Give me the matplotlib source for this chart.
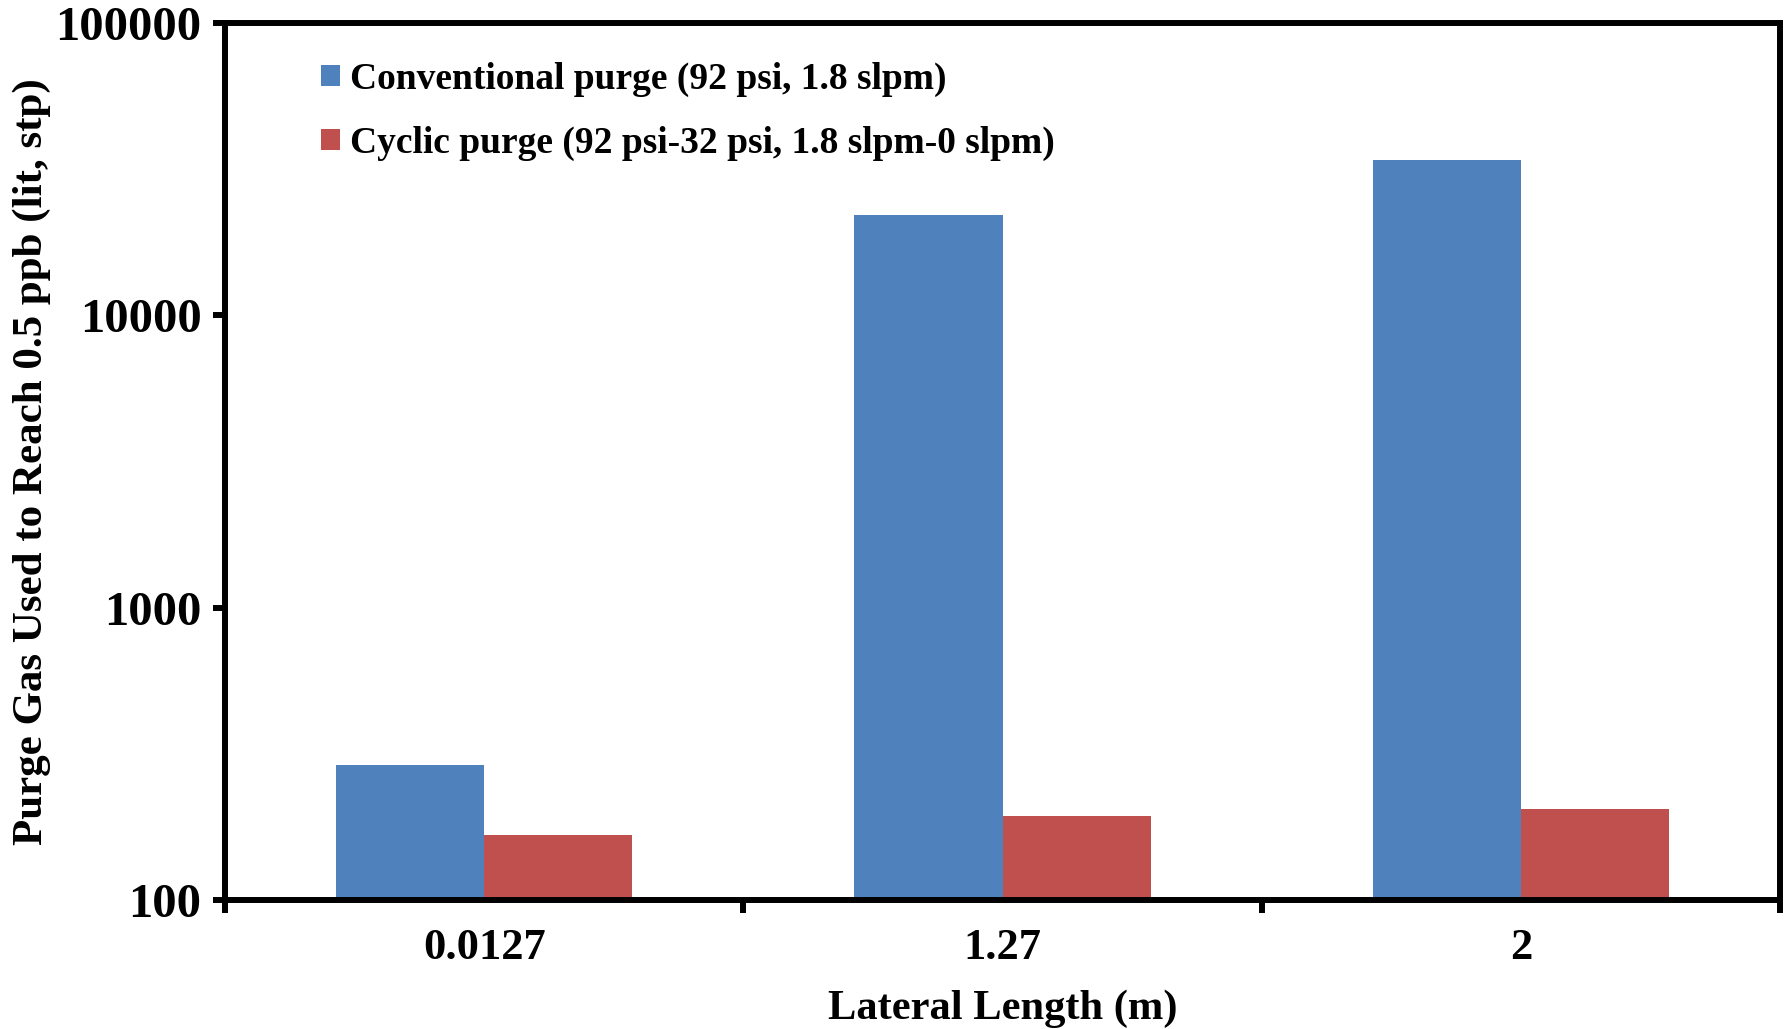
import matplotlib
matplotlib.use("Agg")
import matplotlib.pyplot as plt
import numpy as np

categories = ["0.0127", "1.27", "2"]
conventional = [290, 22000, 34000]
cyclic = [167, 194, 205]
series_labels = ["Conventional purge (92 psi, 1.8 slpm)",
                 "Cyclic purge (92 psi-32 psi, 1.8 slpm-0 slpm)"]
yticks = [100, 1000, 10000, 100000]
ytick_labels = ["100", "1000", "10000", "100000"]

plt.rcParams['font.family'] = ['Liberation Serif', 'DejaVu Serif']
plt.rcParams['font.weight'] = 'bold'

fig = plt.figure(figsize=(17.87, 10.29), dpi=100)
ax = fig.add_axes([225/1787, 1 - 900/1029, (1780-225)/1787, (900-23)/1029])

x = np.arange(len(categories))
w = 0.286
ax.bar(x - w/2, conventional, w, color="#4F81BD", label=series_labels[0])
ax.bar(x + w/2, cyclic, w, color="#C0504D", label=series_labels[1])

ax.set_yscale("log")
ax.set_ylim(100, 100000)
ax.set_xlim(-0.5, 2.5)
ax.set_yticks(yticks)
ax.set_yticklabels(ytick_labels)
ax.yaxis.set_minor_locator(matplotlib.ticker.NullLocator())
ax.set_xticks([-0.5, 0.5, 1.5, 2.5])
ax.set_xticklabels([])
ax.set_xticks(x, minor=True)
ax.set_xticklabels(categories, minor=True)
ax.tick_params(axis='x', which='major', direction='out', length=9, width=4.3)
ax.tick_params(axis='x', which='minor', length=0, pad=20, labelsize=32)
ax.tick_params(axis='y', which='major', direction='out', length=9, width=4.3, labelsize=35, pad=8)

for s in ax.spines.values():
    s.set_linewidth(4.3)

ax.set_xlabel("Lateral Length (m)", fontsize=30.6, fontweight='bold', labelpad=16)
ax.set_ylabel("Purge Gas Used to Reach 0.5 ppb (lit, stp)", fontsize=31, fontweight='bold')
ax.yaxis.set_label_coords(-0.124, 0.5)
ax.yaxis.label.set_verticalalignment('center')

leg = ax.legend(loc='upper left', bbox_to_anchor=(0.062, 0.956), frameon=False,
                fontsize=27, handlelength=0.5, handleheight=0.5, handletextpad=0.25,
                labelspacing=0.77, borderaxespad=0, borderpad=0)

fig.savefig("out.png", dpi=100)
